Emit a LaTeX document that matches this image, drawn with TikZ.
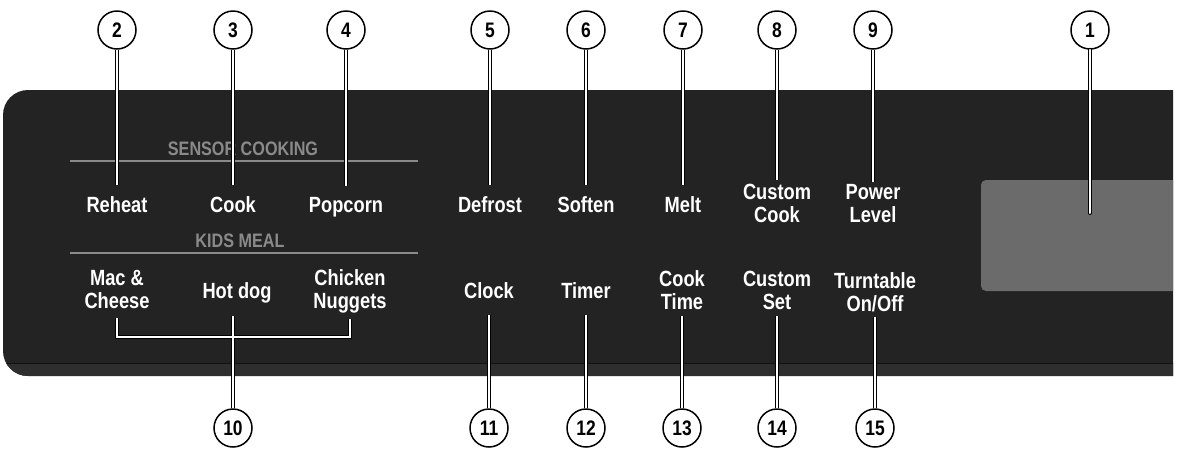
\documentclass[tikz,border=0pt]{standalone}
\usepackage{fontspec}
\setmainfont{Liberation Sans}
\newfontfamily\keyfont{Liberation Sans}[FakeStretch=0.83]

\definecolor{panel}{HTML}{232323}
\definecolor{panelbas}{HTML}{2E2E2E}
\definecolor{panelligne}{HTML}{111111}
\definecolor{ecran}{HTML}{6B6B6B}
\definecolor{titregris}{HTML}{8A8A8A}

\tikzset{
  num/.style={circle,draw,line width=1.5pt,fill=white,minimum size=38pt,inner sep=0pt,
    font=\keyfont\bfseries\fontsize{21}{21}\selectfont},
  key/.style={text=white,align=center,inner sep=0pt,
    font=\keyfont\bfseries\fontsize{22}{23}\selectfont},
  titre/.style={text=titregris,inner sep=0pt,font=\keyfont\bfseries\fontsize{19.5}{19.5}\selectfont},
  sep/.style={draw=titregris,line width=2pt},
  leader/.style={draw=black,line width=1pt,double=white,double distance=2pt},
  gap/.style={shorten >=#1}
}

\begin{document}
\begin{tikzpicture}[x=1pt,y=-1pt]
\useasboundingbox (0,0) rectangle (1179,448);

% le panneau et l'ecran
\begin{scope}
\clip (0,0) rectangle (1173,448);
\clip[rounded corners=25pt] (3,90) rectangle (1230,376);
\fill[panel] (0,0) rectangle (1179,448);
\fill[panelbas] (0,364) rectangle (1179,376);
\draw[panelligne,line width=1pt] (0,363.5) -- (1179,363.5);
\fill[ecran,rounded corners=5pt] (981,180) rectangle (1230,291);
\end{scope}

\node[titre] (sensor) at (243,148.5) {SENSOR COOKING};
\node[titre] (kids) at (240,240.5) {KIDS MEAL};
\draw[sep] (70,161) -- (418,161);
\draw[sep] (70,253) -- (418,253);

% touches du haut
\node[key,anchor=base] (reheat) at (117,212) {Reheat};
\node[key,anchor=base] (cook) at (233,212) {Cook};
\node[key,anchor=base] (popcorn) at (346,212) {Popcorn};
\node[key,anchor=base] (defrost) at (490,212) {Defrost};
\node[key,anchor=base] (soften) at (586,212) {Soften};
\node[key,anchor=base] (melt) at (683,212) {Melt};
\node[key] (ccook) at (777,203.5) {Custom\\Cook};
\node[key] (power) at (873,203.5) {Power\\Level};

% touches du bas
\node[key] (mac) at (117,289) {Mac \&\\Cheese};
\node[key,anchor=base] (hot) at (237,298) {Hot\ dog};
\node[key] (nug) at (350,291) {Chicken\\Nuggets};
\node[key,anchor=base] (clock) at (489,298) {Clock};
\node[key,anchor=base] (timer) at (586,298) {Timer};
\node[key] (ctime) at (682,290.5) {Cook\\Time};
\node[key] (cset) at (777,290.5) {Custom\\Set};
\node[key] (turn) at (875,292) {Turntable\\On/Off};

% reperes
\node[num] (n1) at (1090,30) {1};
\node[num] (n2) at (117,30) {2};
\node[num] (n3) at (233,30) {3};
\node[num] (n4) at (346,30) {4};
\node[num] (n5) at (490,30) {5};
\node[num] (n6) at (586,30) {6};
\node[num] (n7) at (683,30) {7};
\node[num] (n8) at (777,30) {8};
\node[num] (n9) at (873,30) {9};
\node[num] (n10) at (233,428) {10};
\node[num] (n11) at (489,428) {11};
\node[num] (n12) at (586,428) {12};
\node[num] (n13) at (682,428) {13};
\node[num] (n14) at (777,428) {14};
\node[num] (n15) at (875,428) {15};

\coordinate (d1) at (1090,213);
\draw[leader,line cap=round] (n1) -- (d1);
\draw[leader,gap=11pt] (n2) -- (reheat);
\draw[leader,gap=11pt] (n3) -- (cook);
\draw[leader,gap=11pt] (n4) -- (popcorn);
\draw[leader,gap=11pt] (n5) -- (defrost);
\draw[leader,gap=11pt] (n6) -- (soften);
\draw[leader,gap=11pt] (n7) -- (melt);
\draw[leader,gap=4pt] (n8) -- (ccook);
\draw[leader,gap=2pt] (n9) -- (power);

\path (mac.south) ++(0,10) coordinate (kl);
\path (nug.south) ++(0,6) coordinate (kr);
\path (n10 |- hot.south) ++(0,13) coordinate (kh);
\draw[leader] (kl) -- ++(0,19) -| (kr) (kh) -- (n10);
\draw[leader,gap=17pt] (n11) -- (clock);
\draw[leader,gap=17pt] (n12) -- (timer);
\draw[leader,gap=6pt] (n13) -- (ctime);
\draw[leader,gap=6pt] (n14) -- (cset);
\draw[leader,gap=5pt] (n15) -- (turn);
\end{tikzpicture}
\end{document}
